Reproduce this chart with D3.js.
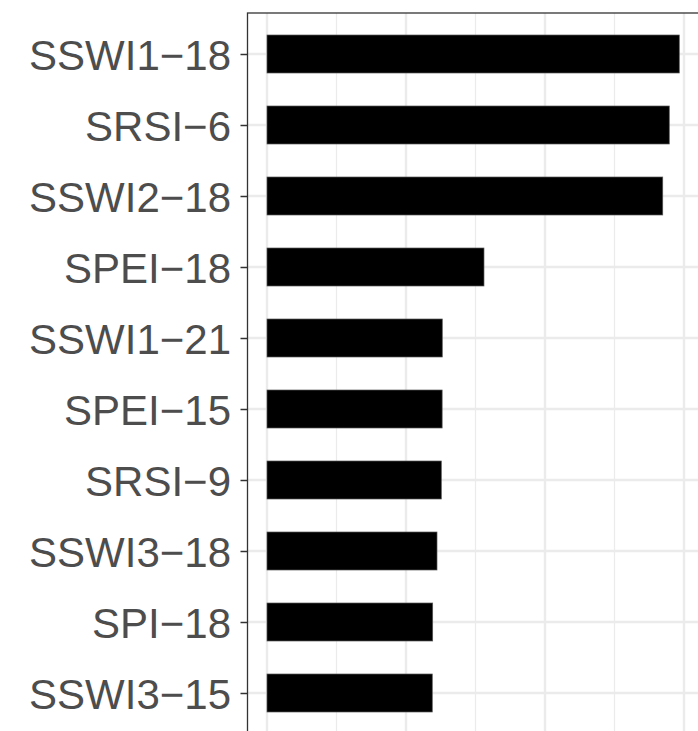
<!DOCTYPE html>
<html>
<head>
<meta charset="utf-8">
<script src="https://cdn.jsdelivr.net/npm/d3@7"></script>
<style>
  html, body { margin: 0; padding: 0; background: #fff; overflow: hidden; }
  svg { display: block; }
  .axis text { font-family: "Liberation Sans", Arial, Helvetica, sans-serif; fill: #4d4d4d; }
</style>
</head>
<body>
<svg id="chart" width="698" height="731"></svg>
<script>
// indices, top to bottom
var categories = ['SSWI1\u221218', 'SRSI\u22126', 'SSWI2\u221218', 'SPEI\u221218', 'SSWI1\u221221',
                  'SPEI\u221215', 'SRSI\u22129', 'SSWI3\u221218', 'SPI\u221218', 'SSWI3\u221215'];
var values = [0.2966, 0.2894, 0.2847, 0.1561, 0.1261, 0.1260, 0.1254, 0.1223, 0.1192, 0.1189];
var majorTicks = [0, 0.1, 0.2, 0.3];
var minorTicks = [0.05, 0.15, 0.25];

var panel = { left: 247.5, top: 13, right: 730, bottom: 760 };

var svg = d3.select('#chart');

var x = d3.scaleLinear().domain([0, 0.3]).range([267, 684]);
var y = d3.scalePoint().domain(categories).range([54, 693]);
var barH = y.step() * 0.535;

// panel background
svg.append('rect')
    .attr('x', panel.left).attr('y', panel.top)
    .attr('width', panel.right - panel.left).attr('height', panel.bottom - panel.top)
    .attr('fill', '#fff');

var grid = svg.append('g').attr('class', 'grid');
grid.selectAll('line.minor')
    .data(minorTicks)
    .enter().append('line')
    .attr('class', 'minor')
    .attr('x1', function (d) { return x(d); })
    .attr('x2', function (d) { return x(d); })
    .attr('y1', panel.top).attr('y2', panel.bottom)
    .attr('stroke', '#ebebeb').attr('stroke-width', 1.2);
grid.selectAll('line.majorx')
    .data(majorTicks)
    .enter().append('line')
    .attr('class', 'majorx')
    .attr('x1', function (d) { return x(d); })
    .attr('x2', function (d) { return x(d); })
    .attr('y1', panel.top).attr('y2', panel.bottom)
    .attr('stroke', '#ebebeb').attr('stroke-width', 2.4);
grid.selectAll('line.majory')
    .data(categories)
    .enter().append('line')
    .attr('class', 'majory')
    .attr('x1', panel.left).attr('x2', panel.right)
    .attr('y1', function (d) { return y(d); })
    .attr('y2', function (d) { return y(d); })
    .attr('stroke', '#ebebeb').attr('stroke-width', 2.4);

// bars
svg.append('g').selectAll('rect')
    .data(values)
    .enter().append('rect')
    .attr('x', x(0))
    .attr('y', function (d, i) { return y(categories[i]) - barH / 2; })
    .attr('width', function (d) { return x(d) - x(0); })
    .attr('height', barH)
    .attr('fill', '#000')
    .attr('stroke', '#555')
    .attr('stroke-width', 0.7);

// panel border (only top and left are in view)
svg.append('rect')
    .attr('x', panel.left).attr('y', panel.top)
    .attr('width', panel.right - panel.left).attr('height', panel.bottom - panel.top)
    .attr('fill', 'none')
    .attr('stroke', '#333').attr('stroke-width', 1.3);

// y axis
var yAxis = svg.append('g')
    .attr('class', 'axis')
    .attr('transform', 'translate(' + panel.left + ',0)')
    .call(d3.axisLeft(y).tickSize(7).tickPadding(9.5));
yAxis.select('.domain').remove();
yAxis.selectAll('.tick line').attr('stroke', '#333').attr('stroke-width', 1.5);
yAxis.selectAll('.tick text')
    .attr('font-size', 42)
    .attr('dy', '0.37em');
</script>
</body>
</html>
